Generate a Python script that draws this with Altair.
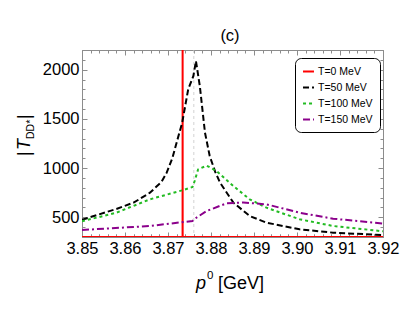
import altair as alt
import pandas as pd

# ---------------- data ----------------
series_names = ["T=0 MeV", "T=50 MeV", "T=100 MeV", "T=150 MeV"]
series_colors = ["#ff0000", "#000000", "#22bb22", "#8b008b"]
series_dashes = [[1, 0], [6, 3], [3, 3], [7, 3, 2, 3]]

# T=0: essentially zero everywhere with a spike (pole) at ~3.8734 GeV
x0 = [3.850, 3.87339, 3.8734, 3.87341, 3.920]
y0 = [0, 0, 100000, 0, 0]

x50 = [3.850, 3.854, 3.858, 3.862, 3.8658, 3.8685, 3.8697, 3.871, 3.872, 3.8733,
       3.8747, 3.8759, 3.8765, 3.8774, 3.8786, 3.8797, 3.881, 3.8821, 3.8852,
       3.889, 3.8929, 3.9006, 3.9084, 3.920]
y50 = [475, 530, 585, 649, 750, 860, 954, 1100, 1258, 1462,
       1800, 1936, 2088, 1834, 1360, 1123, 960, 852, 649,
       513, 446, 378, 344, 320]

x100 = [3.850, 3.858, 3.8658, 3.8733, 3.8757, 3.8762, 3.877, 3.879, 3.8813,
        3.8852, 3.889, 3.8929, 3.9006, 3.9084, 3.920]
y100 = [460, 547, 683, 774, 808, 869, 987, 1025, 971,
        818, 683, 598, 480, 412, 358]

x150 = [3.850, 3.8658, 3.8757, 3.8766, 3.879, 3.8836, 3.8875, 3.8929, 3.9006,
        3.9084, 3.920]
y150 = [371, 412, 463, 496, 564, 642, 650, 632, 547, 486, 437]

threshold_x = [3.876]

x_major = [3.85, 3.86, 3.87, 3.88, 3.89, 3.90, 3.91, 3.92]
x_minor = [round(3.85 + 0.002 * k, 3) for k in range(36)]
y_major = [500, 1000, 1500, 2000]
y_minor = [300 + 100 * k for k in range(20)]

# ---------------- build table ----------------
rows = []
for name, xs, ys in zip(series_names, [x0, x50, x100, x150], [y0, y50, y100, y150]):
    for k, (a, b) in enumerate(zip(xs, ys)):
        rows.append({"series": name, "p0": a, "T": b, "i": k})
df = pd.DataFrame(rows)
thr = pd.DataFrame({"p0": threshold_x})

FONT = "Liberation Sans"
GRAY = "#8c8c8c"

xscale = alt.Scale(domain=[3.85, 3.92], nice=False, zero=False)
yscale = alt.Scale(domain=[300, 2200], nice=False, zero=False, clamp=True)


def axis(orient, values, size, labels, fmt=None):
    kw = dict(orient=orient, values=values, tickSize=size, offset=-size,
              domain=False, grid=False, title=None, tickColor=GRAY,
              tickWidth=1, labels=labels)
    if labels:
        kw.update(labelFont=FONT, labelFontSize=16.5, labelColor="black",
                  labelPadding=3, labelOverlap=False, labelFlush=False,
                  format=fmt)
    return alt.Axis(**kw)


curves = alt.Chart(df).mark_line(strokeWidth=2, clip=True).encode(
    x=alt.X("p0:Q", scale=xscale, axis=axis("bottom", x_major, 5, True, ".2f")),
    y=alt.Y("T:Q", scale=yscale, axis=axis("left", y_major, 5, True, "d")),
    color=alt.Color("series:N", scale=alt.Scale(domain=series_names, range=series_colors),
                    legend=alt.Legend(title=None, orient="none", legendX=213, legendY=8,
                                      strokeColor="black", cornerRadius=6, fillColor="white",
                                      padding=7, labelFont=FONT, labelFontSize=10.5,
                                      symbolType="stroke", symbolSize=120,
                                      symbolStrokeWidth=2, rowPadding=4, labelOffset=3)),
    strokeDash=alt.StrokeDash("series:N",
                              scale=alt.Scale(domain=series_names, range=series_dashes),
                              legend=alt.Legend(title=None)),
    order="i:Q",
)

thr_rule = alt.Chart(thr).mark_rule(color="#c8c8c8", strokeWidth=0.8,
                                    strokeDash=[3, 3]).encode(
    x=alt.X("p0:Q", scale=xscale, axis=axis("bottom", x_minor, 3, False)),
)

ghost = alt.Chart(df).mark_point(opacity=0)
minor_lb = ghost.encode(
    x=alt.X("p0:Q", scale=xscale, axis=axis("bottom", x_minor, 3, False)),
    y=alt.Y("T:Q", scale=yscale, axis=axis("left", y_minor, 3, False)),
)
major_tr = ghost.encode(
    x=alt.X("p0:Q", scale=xscale, axis=axis("top", x_major, 5, False)),
    y=alt.Y("T:Q", scale=yscale, axis=axis("right", y_major, 5, False)),
)
minor_tr = ghost.encode(
    x=alt.X("p0:Q", scale=xscale, axis=axis("top", x_minor, 3, False)),
    y=alt.Y("T:Q", scale=yscale, axis=axis("right", y_minor, 3, False)),
)

# ---------------- texts (title, axis titles) ----------------
one = pd.DataFrame({"a": [0]})


def txt(s, x, y, size, angle=0, style="normal", align="center", baseline="middle"):
    return alt.Chart(one).mark_text(text=s, font=FONT, fontSize=size, fontStyle=style,
                                    angle=angle, align=align, baseline=baseline,
                                    color="black").encode(
        x=alt.value(x), y=alt.value(y))


# plot origin is at page (82, 50)
texts = [
    txt("(c)", 148, -14, 16.5),
    # x title  p^0 [GeV]
    txt("p", 114, 239, 18, style="italic", align="left", baseline="alphabetic"),
    txt("0", 125, 229, 11.5, align="left", baseline="alphabetic"),
    txt("[GeV]", 136, 239, 18, align="left", baseline="alphabetic"),
    # y title |T_DD*|
    txt("|", -57, 106, 18, angle=270, align="left", baseline="middle"),
    txt("T", -57, 100, 18, angle=270, style="italic", align="left", baseline="middle"),
    txt("DD*", -51, 89, 10.5, angle=270, align="left", baseline="middle"),
    txt("|", -57, 69, 18, angle=270, align="left", baseline="middle"),
]

chart = alt.layer(thr_rule, curves, minor_lb, major_tr, minor_tr, *texts).resolve_axis(
    x="independent", y="independent"
).resolve_scale(x="shared", y="shared").properties(
    width=301, height=187,
    autosize=alt.AutoSizeParams(type="none"),
    padding={"left": 74, "top": 42, "right": 20, "bottom": 60},
).configure_view(stroke=GRAY, strokeWidth=1).configure_legend(
    strokeColor="black"
)

chart.save("out.html", embed_options={"renderer": "svg", "actions": False})
